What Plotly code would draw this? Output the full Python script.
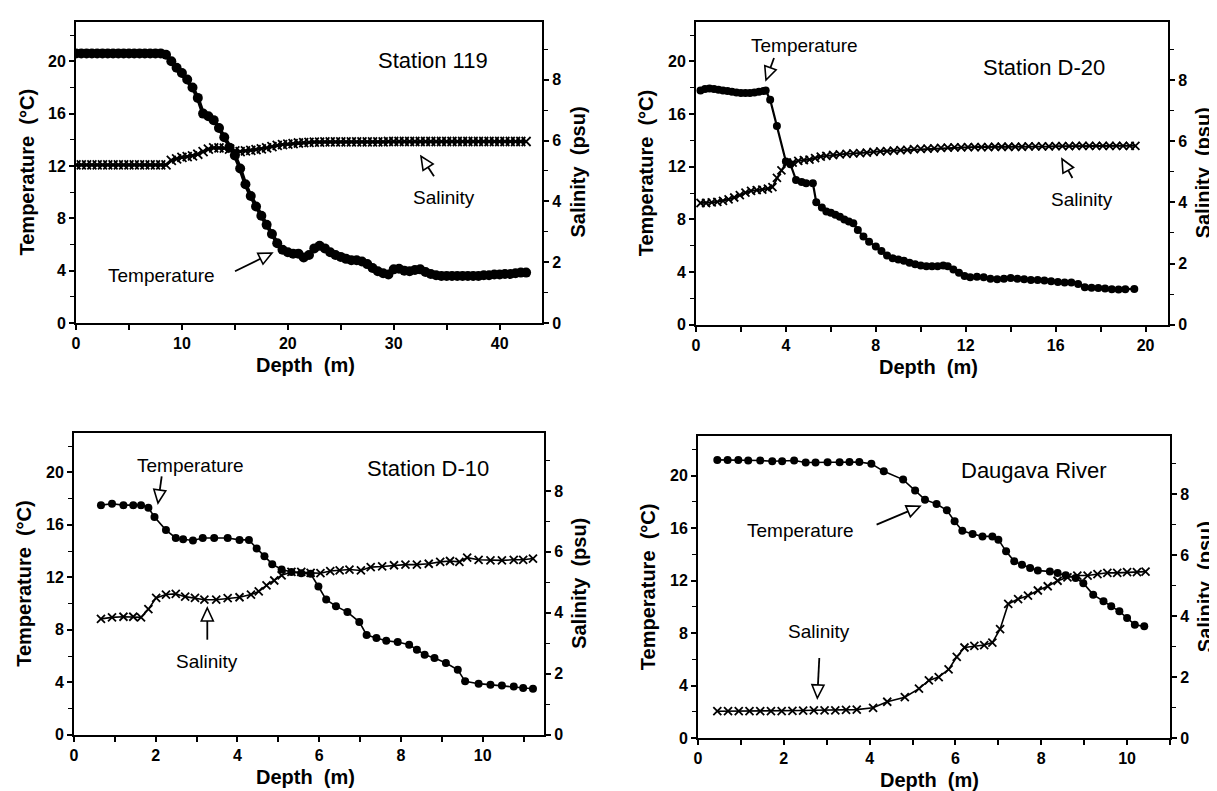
import math
import plotly.graph_objects as go

W, H = 1217, 791
FONT = "Liberation Sans, Arial, sans-serif"

# -------------------------
# DATA
# -------------------------
st119_depth = [
    0, 0.5, 1, 1.5, 2, 2.5, 3, 3.5, 4, 4.5, 5, 5.5, 6, 6.5, 7, 7.5, 8,
    8.5, 9, 9.5, 10, 10.5, 11, 11.5, 12, 12.5, 13,
    13.5, 14, 14.5, 15, 15.5, 16, 16.5, 17, 17.5, 18,
    18.5, 19, 19.5, 20, 20.5, 21, 21.5, 22, 22.5, 23,
    23.5, 24, 24.5, 25, 25.5, 26, 26.5, 27, 27.5, 28,
    28.5, 29, 29.5, 30, 30.5, 31, 31.5, 32, 32.5, 33,
    33.5, 34, 34.5, 35, 35.5, 36, 36.5, 37, 37.5, 38,
    38.5, 39, 39.5, 40, 40.5, 41, 41.5, 42, 42.5,
]
st119_temp = [
    20.6, 20.6, 20.6, 20.6, 20.6, 20.6, 20.6, 20.6, 20.6, 20.6, 20.6, 20.6, 20.6, 20.6, 20.6, 20.6, 20.6,
    20.5, 20.0, 19.5, 19.1, 18.6, 18.0, 17.2, 16.0, 15.8, 15.5,
    14.9, 14.2, 13.4, 12.8, 11.8, 10.6, 9.7, 8.9, 8.2, 7.5,
    6.8, 6.1, 5.6, 5.4, 5.3, 5.3, 5.0, 5.2, 5.7, 5.9,
    5.7, 5.4, 5.2, 5.05, 4.9, 4.8, 4.8, 4.7, 4.5, 4.2,
    3.95, 3.8, 3.7, 4.1, 4.15, 4.0, 3.95, 4.05, 4.1, 3.9,
    3.75, 3.65, 3.6, 3.6, 3.6, 3.6, 3.6, 3.6, 3.6, 3.6,
    3.65, 3.65, 3.7, 3.7, 3.75, 3.75, 3.8, 3.85, 3.85,
]
st119_sal = [
    5.2, 5.2, 5.2, 5.2, 5.2, 5.2, 5.2, 5.2, 5.2, 5.2, 5.2, 5.2, 5.2, 5.2, 5.2, 5.2, 5.2,
    5.2, 5.35, 5.4, 5.45, 5.47, 5.5, 5.55, 5.64, 5.72, 5.76,
    5.76, 5.75, 5.72, 5.66, 5.64, 5.66, 5.68, 5.7, 5.73, 5.76,
    5.8, 5.84, 5.87, 5.88, 5.9, 5.92, 5.93, 5.94, 5.95, 5.95,
    5.96, 5.96, 5.96, 5.96, 5.96, 5.96, 5.96, 5.96, 5.96, 5.96,
    5.96, 5.96, 5.97, 5.97, 5.97, 5.97, 5.97, 5.97, 5.97, 5.97,
    5.97, 5.97, 5.97, 5.97, 5.97, 5.97, 5.97, 5.97, 5.97, 5.97,
    5.97, 5.97, 5.97, 5.97, 5.97, 5.97, 5.97, 5.97, 5.97,
]

d20_temp_depth = [
    0.2, 0.4, 0.6, 0.8, 1.0, 1.2, 1.4, 1.6, 1.8, 2.0, 2.2, 2.4, 2.6, 2.8, 3.0, 3.1,
    3.3, 3.6, 4.0, 4.2, 4.45, 4.7, 4.9, 5.2, 5.35, 5.6, 5.8, 6.0, 6.2, 6.4, 6.6, 6.8,
    7.0, 7.2, 7.45, 7.7, 8.0, 8.25, 8.5, 8.75, 9.0, 9.25, 9.5, 9.75, 10.0, 10.25,
    10.5, 10.75, 11.0, 11.2, 11.45, 11.7, 11.95, 12.2, 12.5, 12.8, 13.1, 13.4, 13.7,
    14.0, 14.3, 14.6, 14.9, 15.2, 15.5, 15.8, 16.1, 16.4, 16.7, 17.0, 17.3, 17.6,
    17.9, 18.2, 18.5, 18.8, 19.1, 19.5,
]
d20_temp = [
    17.8, 17.9, 17.95, 17.9, 17.85, 17.8, 17.75, 17.7, 17.65, 17.6, 17.6, 17.6, 17.65, 17.7, 17.75, 17.8,
    17.1, 15.1, 12.4, 12.2, 11.0, 10.85, 10.75, 10.75, 9.3, 8.9, 8.6, 8.5, 8.35, 8.2, 8.0, 7.85,
    7.7, 7.2, 6.7, 6.3, 5.95, 5.6, 5.25, 5.05, 4.95, 4.85, 4.7, 4.6, 4.5, 4.45,
    4.45, 4.45, 4.5, 4.45, 4.2, 3.95, 3.7, 3.6, 3.65, 3.6, 3.5, 3.45, 3.5,
    3.55, 3.5, 3.45, 3.4, 3.4, 3.35, 3.3, 3.25, 3.2, 3.2, 3.1, 2.85, 2.8,
    2.78, 2.75, 2.7, 2.68, 2.7, 2.72,
]
d20_sal_depth = [
    0.2, 0.45, 0.7, 0.95, 1.2, 1.45, 1.7, 1.95, 2.2, 2.45, 2.7, 2.95, 3.2, 3.4,
    3.6, 3.8, 4.05, 4.3, 4.55, 4.8, 5.05, 5.3, 5.55, 5.8, 6.1, 6.4, 6.7, 7.0,
    7.3, 7.6, 7.9, 8.2, 8.5, 8.8, 9.1, 9.4, 9.7, 10.0, 10.3, 10.6, 10.9, 11.2,
    11.5, 11.8, 12.1, 12.4, 12.7, 13.0, 13.3, 13.6, 13.9, 14.2, 14.5, 14.8,
    15.1, 15.4, 15.7, 16.0, 16.3, 16.6, 16.9, 17.2, 17.5, 17.8, 18.1, 18.4,
    18.7, 19.0, 19.3, 19.55,
]
d20_sal = [
    3.98, 3.98, 4.0, 4.02, 4.05, 4.1, 4.16, 4.24, 4.32, 4.38, 4.4, 4.42, 4.45, 4.5,
    4.8, 5.05, 5.3, 5.3, 5.36, 5.38, 5.4, 5.45, 5.5, 5.52, 5.55, 5.57, 5.59, 5.6,
    5.61, 5.63, 5.65, 5.67, 5.68, 5.69, 5.71, 5.72, 5.74, 5.75, 5.76, 5.77, 5.78, 5.79,
    5.8, 5.8, 5.81, 5.81, 5.81, 5.81, 5.82, 5.82, 5.82, 5.82, 5.82, 5.83,
    5.83, 5.83, 5.83, 5.84, 5.84, 5.84, 5.85, 5.85, 5.85, 5.85, 5.85, 5.85,
    5.85, 5.85, 5.85, 5.85,
]

d10_temp_depth = [
    0.66, 0.93, 1.21, 1.45, 1.64, 1.82, 1.97, 2.25, 2.49, 2.67, 2.91, 3.15,
    3.43, 3.76, 4.05, 4.28, 4.47, 4.66, 4.85, 5.08, 5.32, 5.56, 5.79, 5.98,
    6.17, 6.41, 6.69, 6.98, 7.16, 7.4, 7.64, 7.92, 8.2, 8.39, 8.58, 8.82,
    9.1, 9.39, 9.57, 9.9, 10.19, 10.47, 10.76, 10.99, 11.23,
]
d10_temp = [
    17.5, 17.6, 17.5, 17.5, 17.5, 17.3, 16.6, 15.6, 15.0, 14.9, 14.8, 15.0,
    15.0, 15.0, 14.85, 14.85, 14.2, 13.6, 13.0, 12.6, 12.4, 12.3, 12.27, 11.3,
    10.3, 9.8, 9.35, 8.6, 7.6, 7.37, 7.16, 7.06, 6.86, 6.48, 6.1, 5.84,
    5.46, 4.95, 4.07, 3.89, 3.81, 3.76, 3.68, 3.56, 3.5,
]
d10_sal_depth = [
    0.66, 0.93, 1.21, 1.45, 1.64, 1.82, 2.01, 2.25, 2.49, 2.72, 2.96, 3.19,
    3.48, 3.76, 4.05, 4.33, 4.52, 4.71, 4.9, 5.08, 5.32, 5.56, 5.79, 6.03,
    6.27, 6.5, 6.74, 7.02, 7.26, 7.54, 7.83, 8.11, 8.39, 8.68, 8.96, 9.2,
    9.43, 9.62, 9.9, 10.19, 10.47, 10.76, 10.99, 11.23,
]
d10_sal = [
    3.8, 3.85, 3.87, 3.87, 3.85, 4.12, 4.49, 4.6, 4.62, 4.53, 4.49, 4.43,
    4.43, 4.48, 4.51, 4.6, 4.7, 4.9, 5.06, 5.23, 5.34, 5.34, 5.31, 5.3,
    5.37, 5.39, 5.42, 5.39, 5.5, 5.52, 5.56, 5.58, 5.58, 5.61, 5.67, 5.7,
    5.67, 5.81, 5.74, 5.72, 5.72, 5.74, 5.74, 5.78,
]

daug_temp_depth = [
    0.45, 0.69, 0.94, 1.17, 1.45, 1.73, 1.96, 2.24, 2.51, 2.74, 3.02, 3.3,
    3.53, 3.76, 4.04, 4.33, 4.78, 5.06, 5.29, 5.56, 5.8, 5.98, 6.16, 6.4,
    6.63, 6.86, 7.0, 7.18, 7.37, 7.55, 7.74, 7.92, 8.2, 8.38, 8.57, 8.8,
    8.98, 9.21, 9.45, 9.63, 9.82, 10.0, 10.18, 10.4,
]
daug_temp = [
    21.2, 21.2, 21.2, 21.15, 21.15, 21.1, 21.1, 21.15, 21.0, 21.0, 21.02, 21.02,
    21.05, 21.04, 20.9, 20.33, 19.7, 18.86, 18.17, 17.84, 17.36, 16.52, 15.8, 15.55,
    15.37, 15.37, 15.12, 14.23, 13.47, 13.2, 12.96, 12.76, 12.7, 12.58, 12.4, 12.2,
    11.8, 10.93, 10.42, 10.04, 9.66, 9.15, 8.64, 8.51,
]
daug_sal_depth = [
    0.45, 0.7, 0.95, 1.2, 1.45, 1.7, 1.95, 2.2, 2.45, 2.7, 2.95, 3.2,
    3.45, 3.7, 4.08, 4.41, 4.82, 5.15, 5.38, 5.61, 5.84, 6.03, 6.21, 6.44,
    6.67, 6.86, 7.04, 7.23, 7.46, 7.69, 7.92, 8.15, 8.38, 8.61, 8.84, 9.08,
    9.31, 9.54, 9.77, 10.0, 10.23, 10.43,
]
daug_sal = [
    0.88, 0.88, 0.88, 0.88, 0.88, 0.88, 0.88, 0.89, 0.9, 0.91, 0.91, 0.91,
    0.92, 0.93, 0.99, 1.19, 1.34, 1.62, 1.89, 2.0, 2.25, 2.66, 2.97, 3.02,
    3.05, 3.13, 3.57, 4.4, 4.56, 4.67, 4.84, 4.98, 5.16, 5.27, 5.33, 5.33,
    5.38, 5.42, 5.42, 5.44, 5.44, 5.46,
]

station_names = ["Station 119", "Station D-20", "Station D-10", "Daugava River"]

# -------------------------
# PANEL GEOMETRY (pixels in the 1217x791 page)
# -------------------------
PANELS = [
    dict(x0=68, x1=534, y0=14, y1=315, xmax=44, xdtick=10, xminor=5,
         temp=(st119_depth, st119_temp), sal=(st119_depth, st119_sal),
         tsize=10, tline=4, ssize=9, sline=3),
    dict(x0=688, x1=1160, y0=14, y1=316.7, xmax=21, xdtick=4, xminor=2,
         temp=(d20_temp_depth, d20_temp), sal=(d20_sal_depth, d20_sal),
         tsize=8, tline=2.2, ssize=8, sline=2),
    dict(x0=66, x1=536, y0=425, y1=726.7, xmax=11.5, xdtick=2, xminor=1,
         temp=(d10_temp_depth, d10_temp), sal=(d10_sal_depth, d10_sal),
         tsize=8, tline=1.6, ssize=8, sline=1.6),
    dict(x0=690, x1=1162, y0=428.3, y1=730, xmax=11, xdtick=2, xminor=1,
         temp=(daug_temp_depth, daug_temp), sal=(daug_sal_depth, daug_sal),
         tsize=8, tline=1.6, ssize=8, sline=1.6),
]

# text labels: (text, x, y, size) in pixels
LABELS = [
    (station_names[0], 425, 53, 22), ("Salinity", 436, 189, 19), ("Temperature", 153, 267, 19),
    (station_names[1], 1036, 60, 22), ("Temperature", 796, 38, 19), ("Salinity", 1074, 192, 19),
    (station_names[2], 420, 460, 22), ("Temperature", 182, 457, 19), ("Salinity", 199, 653, 19),
    (station_names[3], 1026, 462, 22), ("Temperature", 792, 522, 19), ("Salinity", 811, 623, 19),
]
# arrows: tail -> tip, pixels
ARROWS = [
    ((426.0, 168.3), (413.0, 148.3)), ((227.0, 263.3), (264.0, 245.0)),
    ((766.0, 50.0), (758.0, 72.0)), ((1064.4, 170.0), (1054.0, 151.0)),
    ((153.7, 468.3), (150.0, 495.0)), ((199.3, 631.7), (199.3, 600.0)),
    ((868.6, 516.7), (912.0, 498.3)), ((811.3, 650.0), (809.3, 690.0)),
]


def fx(px):
    return px / W


def fy(py):
    return 1 - py / H


fig = go.Figure()
layout = {}
annotations = []
shapes = []

tick_font = dict(family=FONT, size=16, color="black", weight="bold")
title_font = dict(family=FONT, size=20, color="black", weight="bold")

for i, p in enumerate(PANELS):
    n = i + 1
    xa = "x" if n == 1 else f"x{n}"
    ya = "y" if n == 1 else f"y{n}"
    yr = f"y{n + 4}"

    # temperature: filled circles with line
    fig.add_trace(go.Scatter(
        x=p["temp"][0], y=p["temp"][1], xaxis=xa, yaxis=ya,
        mode="lines+markers",
        line=dict(color="black", width=p["tline"]),
        marker=dict(symbol="circle", size=p["tsize"], color="black"),
        showlegend=False, hoverinfo="x+y",
    ))
    # salinity: crosses with line
    fig.add_trace(go.Scatter(
        x=p["sal"][0], y=p["sal"][1], xaxis=xa, yaxis=yr,
        mode="lines+markers",
        line=dict(color="black", width=p["sline"]),
        marker=dict(symbol="x-thin", size=p["ssize"], line=dict(color="black", width=1.8)),
        showlegend=False, hoverinfo="x+y",
    ))

    xdom = [fx(p["x0"]), fx(p["x1"])]
    ydom = [fy(p["y1"]), fy(p["y0"])]
    common = dict(showgrid=False, zeroline=False, showline=True, linecolor="black",
                  linewidth=2, ticks="outside", ticklen=5, tickwidth=1.6,
                  tickcolor="black", tickfont=tick_font, automargin=False)

    layout[f"xaxis{'' if n == 1 else n}"] = dict(
        domain=xdom, anchor=ya, range=[0, p["xmax"]], dtick=p["xdtick"], tick0=0,
        mirror=True,
        minor=dict(dtick=p["xminor"], ticks="outside", ticklen=5, tickwidth=1.6, tickcolor="black"),
        **common,
    )
    layout[f"yaxis{'' if n == 1 else n}"] = dict(
        domain=ydom, anchor=xa, range=[0, 23], dtick=4, tick0=0,
        minor=dict(dtick=2, ticks="outside", ticklen=4, tickwidth=1.4, tickcolor="black"),
        **common,
    )
    layout[f"yaxis{n + 4}"] = dict(
        domain=ydom, anchor=xa, overlaying=ya, side="right", range=[0, 9.9], dtick=2, tick0=0,
        minor=dict(dtick=1, ticks="outside", ticklen=4, tickwidth=1.4, tickcolor="black"),
        **common,
    )

    # axis titles
    cx = (p["x0"] + p["x1"]) / 2
    cy = (p["y0"] + p["y1"]) / 2
    annotations.append(dict(text="Depth  (m)", x=fx(cx - 4), y=fy(p["y1"] + 42),
                            xref="paper", yref="paper", showarrow=False,
                            xanchor="center", yanchor="middle", font=title_font))
    annotations.append(dict(text="Temperature  (°C)", x=fx(p["x0"] - 50), y=fy(cy),
                            xref="paper", yref="paper", showarrow=False, textangle=-90,
                            xanchor="center", yanchor="middle", font=title_font))
    annotations.append(dict(text="Salinity  (psu)", x=fx(p["x1"] + 35), y=fy(cy),
                            xref="paper", yref="paper", showarrow=False, textangle=-90,
                            xanchor="center", yanchor="middle", font=title_font))

# in-plot labels
for text, x, y, size in LABELS:
    annotations.append(dict(text=text, x=fx(x), y=fy(y), xref="paper", yref="paper",
                            showarrow=False, xanchor="center", yanchor="middle",
                            font=dict(family=FONT, size=size, color="black")))

# arrows with hollow heads
for (tx, ty), (hx, hy) in ARROWS:
    dx, dy = hx - tx, hy - ty
    ln = math.hypot(dx, dy)
    ux, uy = dx / ln, dy / ln
    L, w = 13, 6
    bx, by = hx - ux * L, hy - uy * L
    nx, ny = -uy, ux
    shapes.append(dict(type="line", xref="paper", yref="paper",
                       x0=fx(tx), y0=fy(ty), x1=fx(bx), y1=fy(by),
                       line=dict(color="black", width=1.8)))
    pts = [(hx, hy), (bx + nx * w, by + ny * w), (bx - nx * w, by - ny * w)]
    path = "M " + " L ".join(f"{fx(a):.5f},{fy(b):.5f}" for a, b in pts) + " Z"
    shapes.append(dict(type="path", xref="paper", yref="paper", path=path,
                       fillcolor="white", line=dict(color="black", width=1.6)))

fig.update_layout(
    width=W, height=H,
    margin=dict(l=0, r=0, t=0, b=0),
    paper_bgcolor="white", plot_bgcolor="white",
    font=dict(family=FONT, color="black"),
    showlegend=False,
    annotations=annotations,
    shapes=shapes,
    **layout,
)

fig.write_html("out.html")
